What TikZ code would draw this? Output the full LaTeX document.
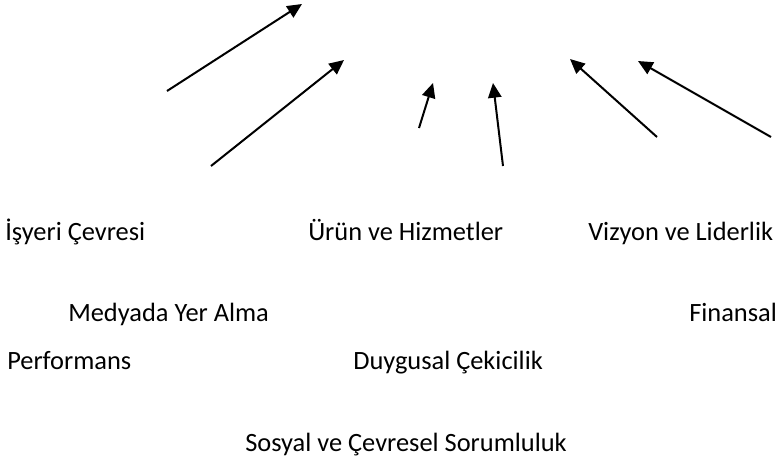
\documentclass[tikz,border=0pt]{standalone}
\usepackage{fontspec}
\setmainfont{Carlito}
\usepackage{tikz}
\usetikzlibrary{arrows.meta,positioning}

\begin{document}
\begin{tikzpicture}[x=0.75pt,y=-0.75pt,
        lbl/.style={anchor=base west,inner sep=0pt,font=\fontsize{19.8pt}{24pt}\selectfont},
        arr/.style={line width=1.5pt,-{Triangle[length=11pt,width=10pt]}}]
            \useasboundingbox (0,0) rectangle (778,462);
            % labels
            \node[lbl] (isyeri)   at (5,240)   {İşyeri Çevresi};
            \node[lbl] (urun)     at (308,240) {Ürün ve Hizmetler};
            \node[lbl] (vizyon)   at (588,240) {Vizyon ve Liderlik};
            \node[lbl] (medya)    at (68,321)  {Medyada Yer Alma};
            \node[lbl] (finansal) at (689,321) {Finansal};
            \node[lbl] (perf)     at (7,369)   {Performans};
            \node[lbl] (duygu)    at (353,369) {Duygusal Çekicilik};
            \node[lbl] (sosyal)   at (245,451) {Sosyal ve Çevresel Sorumluluk};
            % arrow ends
            \coordinate (s_1) at (167,91);  \coordinate (t_1) at (302,4);
            \coordinate (s_2) at (211,166); \coordinate (t_2) at (344,60);
            \coordinate (s_3) at (419,128); \coordinate (t_3) at (433,83);
            \coordinate (s_4) at (503,166); \coordinate (t_4) at (493,83);
            \coordinate (s_5) at (657,137); \coordinate (t_5) at (570,59);
            \coordinate (s_6) at (771,137); \coordinate (t_6) at (638,61);
            \foreach \i in {1,...,6}
                \draw[arr] (s_\i) -- (t_\i);
        \end{tikzpicture}
\end{document}
